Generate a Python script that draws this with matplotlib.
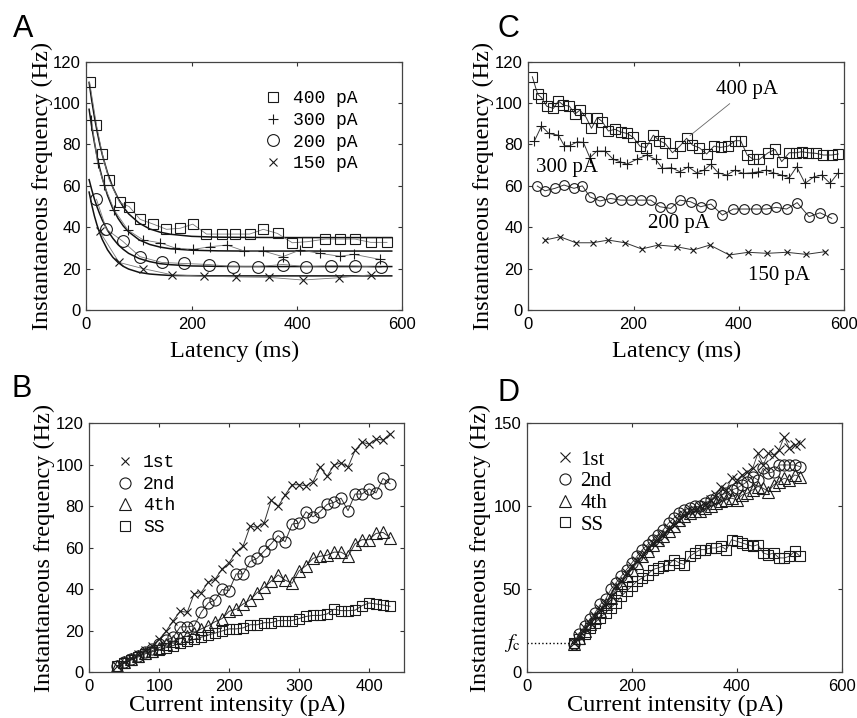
import matplotlib
matplotlib.use('Agg')
import matplotlib.pyplot as plt
from matplotlib.lines import Line2D
from matplotlib import transforms

plt.rcParams['font.family'] = ['Liberation Sans Narrow', 'Liberation Sans']
plt.rcParams['mathtext.fontset'] = 'stix'

# ---- panel A: latency vs frequency (data + exponential fits)
a_x_400 = [6, 19, 30, 43, 63, 81, 102, 127, 152, 178, 202, 228, 257, 283, 310, 336, 363, 391, 419, 454, 481, 510, 540, 571]
a_y_400 = [110, 89.4, 75.4, 63, 52, 50, 43.8, 41.5, 39, 39.5, 41.5, 36.7, 36.7, 36.7, 36.7, 39, 37, 32.5, 33, 34.3, 34.3, 34.3, 32.7, 32.7]
a_x_300 = [9.5, 21, 33.6, 52.7, 79, 108, 140, 168, 203, 235, 267, 300, 336, 373, 406, 443, 481, 508, 557]
a_y_300 = [92, 71, 60.4, 48.3, 38.6, 33.8, 32.5, 30, 29.3, 30.6, 31.4, 28.5, 28.5, 25.8, 29, 27.4, 26, 26.9, 24.5]
a_x_200 = [19, 38, 68.6, 101.6, 143, 185, 233, 278, 325, 373, 417, 465, 511, 560]
a_y_200 = [53.5, 39, 33.3, 25.8, 23, 22.5, 22, 21, 21, 22, 21, 21.4, 21.3, 20.6]
a_x_150 = [25, 62, 108, 163, 223, 284, 346, 411, 479, 540]
a_y_150 = [38, 23, 20, 17, 16.4, 16, 15.8, 14.5, 15.6, 17]

fit_x = [5, 10, 15, 20, 25, 30, 40, 50, 60, 70, 80, 100, 120, 140, 160, 200, 250, 300, 400, 500, 580]
fit_400 = [110, 101.2, 93.4, 86.5, 80.5, 75.1, 66.3, 59.3, 54, 49.8, 46.5, 42, 39.2, 37.6, 36.6, 35.6, 35.2, 35.1, 35, 35, 35]
fit_300 = [97, 88.5, 81, 74.4, 68.7, 63.7, 55.4, 49.1, 44.3, 40.6, 37.8, 33.9, 31.7, 30.4, 29.6, 28.9, 28.6, 28.5, 28.5, 28.5, 28.5]
fit_200 = [63, 58.1, 53.7, 49.9, 46.5, 43.5, 38.5, 34.7, 31.6, 29.3, 27.4, 24.9, 23.4, 22.4, 21.9, 21.3, 21.1, 21, 21, 21, 21]
fit_150 = [57, 50.8, 45.5, 41.1, 37.3, 34.1, 29.1, 25.5, 23, 21.1, 19.8, 18.2, 17.4, 17, 16.7, 16.6, 16.5, 16.5, 16.5, 16.5, 16.5]

# ---- panel C: latency vs frequency
c_x_400 = [7.6, 17.7, 25, 34.9, 47.5, 57, 66.5, 78, 88.7, 98, 110, 120, 131, 140.7, 152, 164.8, 176, 188, 199.6, 212,
           223.7, 237.6, 249, 260, 274, 288, 301, 312, 325, 339, 353, 365.6, 380, 393, 403.7, 416, 427.8, 439, 456, 469,
           481.6, 496, 509, 519.6, 532, 547, 561, 577, 589]
c_y_400 = [112.7, 104.3, 102.6, 98.5, 97.4, 101, 99, 98.5, 94.7, 96.6, 93, 87.8, 93, 91, 86.5, 87.3, 86, 85.3, 83.4, 79.2,
           78.4, 84.5, 81.8, 80.5, 76, 79.2, 83, 79.7, 78.4, 75.4, 79.2, 78.6, 79.2, 81.8, 81.8, 74.9, 72.8, 72.8, 76, 77.6,
           71.7, 76, 76, 76.5, 76, 75.7, 74.9, 74.9, 75.4]
c_x_300 = [11.4, 25, 39, 57, 68.4, 79, 93, 104.6, 117, 130, 145.8, 161.6, 174, 187, 206, 225, 242, 255, 272, 288,
           304, 320, 334, 346.6, 361, 377, 393, 408.7, 424.6, 437, 451.8, 466, 481.6, 496, 510, 526, 543, 557.6, 573.5, 589]
c_y_300 = [81.6, 88.9, 85.3, 84.5, 79.4, 79.4, 81.3, 81, 73.6, 76.8, 76.8, 72.8, 71.7, 70.5, 72.8, 74.9, 72.8, 68.4, 68.8, 66.8,
           69.2, 66.3, 67.6, 70.4, 66.3, 65.2, 67.6, 66, 66.3, 66.8, 67.6, 66.3, 65.2, 63.9, 69.2, 61.2, 64.4, 65.2, 61.2, 66.3]
c_x_200 = [17, 31.7, 50.7, 67.8, 86.8, 102.7, 117, 136, 156.5, 175.5, 194.5, 213.5, 232.6, 250, 270.6, 288, 308.6, 327.6,
           347, 369, 389.7, 410.6, 432, 452, 471, 491, 511, 533.6, 554.5, 576.7]
c_y_200 = [59.9, 57.6, 58.8, 60.4, 58.8, 60, 54.7, 52.7, 53.9, 53.1, 53.1, 53.1, 53.1, 49.9, 49.1, 53.1, 52.3, 49.9,
           51.2, 45.9, 48.8, 48.8, 48.8, 48.8, 49.6, 48.8, 51.9, 45.1, 47, 44.3]
c_x_150 = [31.7, 60.2, 90.6, 122, 152, 183.8, 215.5, 247, 282, 313.7, 345, 382, 418, 454, 491, 528, 564]
c_y_150 = [33.8, 35.4, 32.5, 32.5, 33.8, 32.5, 29.5, 31.4, 30.6, 29, 31.4, 26.6, 27.9, 27.4, 27.9, 26.9, 28.2]

# ---- panel B: current intensity vs frequency
b_x = [40, 50, 60, 70, 80, 90, 100, 110, 120, 130, 140, 150, 160, 170, 180, 190, 200, 210, 220, 230,
       240, 250, 260, 270, 280, 290, 300, 310, 320, 330, 340, 350, 360, 370, 380, 390, 400, 410, 420, 430]
b_1st = [3, 5, 7, 8.8, 11, 13, 16, 20, 25, 29.5, 29, 38, 38.5, 43.5, 45, 50, 53, 58, 61, 70.5,
         70, 72, 83, 80, 85.5, 90.5, 90.5, 90, 92, 99, 94.5, 100, 101, 99, 107, 111, 110, 112.5, 112, 115]
b_2nd = [3, 5, 6.5, 8, 10, 11.5, 13.5, 15.5, 17, 22, 22, 22.5, 29, 33.5, 35, 40, 39.5, 47.5, 47.5, 53.5,
         55, 58.5, 62, 66, 63, 71.5, 72, 77.5, 75, 77.5, 81, 82, 84, 78, 86, 86, 88.5, 86.5, 93.5, 91]
b_4th = [3, 5, 6.5, 8, 9.5, 10.5, 12, 13.5, 15, 16.5, 17.5, 19, 21, 22.5, 24.5, 26, 29.5, 30.5, 33, 35,
         38.5, 41, 44, 47, 44.5, 43, 49, 51.5, 55, 56, 56.5, 58, 58, 56, 62, 64, 64, 67, 67.5, 65]
b_ss = [3, 4.5, 6, 7.5, 9, 10, 11, 12, 13, 14, 15, 16, 17, 18, 19, 20, 21, 21, 21.5, 23,
        23, 24, 24, 25, 25, 25, 26, 27, 27.5, 27.5, 28.2, 30.5, 29.8, 29.8, 30, 32.2, 33.5, 33, 32.5, 31.9]

# ---- panel D: current intensity vs frequency
d_x = [90, 100, 110, 120, 130, 140, 150, 160, 170, 180, 190, 200, 210, 220, 230, 240, 250, 260, 270, 280, 290, 300,
       310, 320, 330, 340, 350, 360, 370, 380, 390, 400, 410, 420, 430, 440, 450, 460, 470, 480, 490, 500, 510, 520]
d_1st = [17.5, 22, 27, 30, 34, 38, 41, 46, 52, 55, 60, 64, 67, 70, 75, 78, 80, 83, 87, 89, 92, 95,
         97, 98, 100, 101, 104, 107, 112, 110, 117, 116, 119, 121, 123, 132, 125, 132, 131, 134, 142, 135, 137, 138]
d_2nd = [17, 23, 28, 32, 36, 41, 44, 50, 54, 58, 62, 66, 70, 74, 77, 80, 83, 86, 90, 93, 96, 98,
         99, 100, 100, 102, 104, 105, 107, 108, 110, 111, 113, 115, 118, 116, 123, 120, 121, 125, 125, 125, 125, 124]
d_4th = [17, 21, 25, 29, 33, 37, 41, 45, 50, 54, 58, 62, 66, 70, 73, 77, 80, 82, 85, 88, 92, 94,
         96, 97, 97, 99, 100, 102, 103, 104, 105, 104, 107, 108, 110, 112, 111, 109, 113, 115, 117, 116, 119, 118]
d_ss = [17.5, 20, 23, 27, 30, 33, 36, 39, 42, 46, 49, 52, 55, 57, 59, 62, 63, 64, 65, 68, 66, 65,
        70, 72, 74, 74, 75, 75, 76, 74, 80, 79, 78, 77, 76, 77, 72, 71, 72, 69, 69, 70, 73, 70]
d_fc = 17.5

SERIF = 'Liberation Serif'
MONO = 'Liberation Mono'
EDGE = '#1a1a1a'


def style_axes(ax, xlim, ylim, xticks, yticks):
    ax.set_xlim(xlim)
    ax.set_ylim(ylim)
    ax.set_xticks(xticks)
    ax.set_yticks(yticks)
    ax.tick_params(direction='in', top=True, right=True, length=3, width=0.8,
                   colors='#333333', labelcolor='black', labelsize=12)
    ax.tick_params(axis='x', pad=5)
    ax.tick_params(axis='y', pad=4)
    for s in ax.spines.values():
        s.set_color('#444444')
        s.set_linewidth(0.9)


def series(ax, x, y, marker, ms, lw=0.7, lc='#333333'):
    ax.plot(x, y, color=lc, lw=lw, marker=marker, ms=ms, mfc='none', mec=EDGE, mew=0.8)


def proxy(marker, ms):
    return Line2D([], [], ls='none', marker=marker, ms=ms, mfc='none', mec=EDGE, mew=0.8)


fig = plt.figure(figsize=(8.57, 7.18), dpi=100)
axA = fig.add_axes([0.1009, 0.5682, 0.3685, 0.3459])
axC = fig.add_axes([0.6165, 0.5682, 0.3683, 0.3459])
axB = fig.add_axes([0.1042, 0.0634, 0.3672, 0.3468])
axD = fig.add_axes([0.6146, 0.0634, 0.3679, 0.3468])

# ---- A
for fy in (fit_400, fit_300, fit_200, fit_150):
    axA.plot(fit_x, fy, color='#111111', lw=1.1)
series(axA, a_x_400, a_y_400, 's', 7.2, lw=0.6, lc='#777777')
series(axA, a_x_300, a_y_300, '+', 7.5, lw=0.6, lc='#777777')
series(axA, a_x_200, a_y_200, 'o', 8.5, lw=0.6, lc='#777777')
series(axA, a_x_150, a_y_150, 'x', 5.5, lw=0.6, lc='#777777')
style_axes(axA, (0, 600), (0, 120), [0, 200, 400, 600], range(0, 121, 20))
axA.legend([proxy('s', 7.2), proxy('+', 7.5), proxy('o', 8.5), proxy('x', 5.5)],
           ['400 pA', '300 pA', '200 pA', '150 pA'],
           loc='upper left', bbox_to_anchor=(0.562, 0.884), frameon=False,
           borderpad=0, borderaxespad=0, handlelength=1.0, handletextpad=0.6,
           labelspacing=0.25, prop={'family': MONO, 'size': 13})

# ---- C
series(axC, c_x_400, c_y_400, 's', 7.2)
series(axC, c_x_300, c_y_300, '+', 7.5)
series(axC, c_x_200, c_y_200, 'o', 7)
series(axC, c_x_150, c_y_150, 'x', 5)
style_axes(axC, (0, 600), (0, 120), [0, 200, 400, 600], range(0, 121, 20))
axC.annotate('400 pA', xy=(c_x_400[26], c_y_400[26]), xytext=(416, 106.5),
             ha='center', va='center', fontsize=15, family=SERIF,
             arrowprops=dict(arrowstyle='-', color='#666666', lw=0.6, shrinkA=2, shrinkB=3))
axC.text(74, 69, '300 pA', ha='center', va='center', fontsize=15, family=SERIF)
axC.text(287, 41.6, '200 pA', ha='center', va='center', fontsize=15, family=SERIF)
axC.text(477, 16.7, '150 pA', ha='center', va='center', fontsize=15, family=SERIF)

# ---- B
series(axB, b_x, b_ss, 's', 6.5)
series(axB, b_x, b_4th, '^', 8)
series(axB, b_x, b_2nd, 'o', 8)
series(axB, b_x, b_1st, 'x', 6)
style_axes(axB, (0, 450), (0, 120), [0, 100, 200, 300, 400], range(0, 121, 20))
axB.legend([proxy('x', 6), proxy('o', 8), proxy('^', 8), proxy('s', 6.5)],
           ['1st', '2nd', '4th', 'SS'],
           loc='upper left', bbox_to_anchor=(0.085, 0.876), frameon=False,
           borderpad=0, borderaxespad=0, handlelength=1.0, handletextpad=0.5,
           labelspacing=0.25, prop={'family': MONO, 'size': 13})

# ---- D
axD.plot([0, d_x[0]], [d_fc, d_fc], color='black', ls=':', lw=1.0)
series(axD, d_x, d_ss, 's', 7.2, lw=0.6)
series(axD, d_x, d_4th, '^', 8, lw=0.6)
series(axD, d_x, d_2nd, 'o', 8, lw=0.6)
series(axD, d_x, d_1st, 'x', 6.5, lw=0.6)
style_axes(axD, (0, 600), (0, 150), [0, 200, 400, 600], [0, 50, 100, 150])
trD = transforms.blended_transform_factory(axD.transAxes, axD.transData)
axD.text(-0.02, d_fc, r'$f_{\mathrm{c}}$', transform=trD, ha='right', va='center', fontsize=15)
axD.legend([proxy('x', 6.5), proxy('o', 8), proxy('^', 8), proxy('s', 7.2)],
           ['1st', '2nd', '4th', 'SS'],
           loc='upper left', bbox_to_anchor=(0.088, 0.893), frameon=False,
           borderpad=0, borderaxespad=0, handlelength=1.0, handletextpad=0.25,
           labelspacing=0.1, prop={'family': SERIF, 'size': 15})

# ---- labels
for ax, xl, ylx in ((axA, 'Latency (ms)', -0.106), (axC, 'Latency (ms)', -0.109),
                    (axB, 'Current intensity (pA)', -0.109), (axD, 'Current intensity (pA)', -0.112)):
    ax.set_xlabel(xl, family=SERIF, fontsize=17.5)
    ax.set_ylabel('Instantaneous frequency (Hz)', family=SERIF, fontsize=17.5)
    ax.yaxis.set_label_coords(ylx, 0.5)
    ax.xaxis.set_label_coords(0.47, -0.125 if ax in (axA, axC) else -0.09)

for letter, x, y in (('A', 0.0148, 0.980), ('C', 0.580, 0.980), ('B', 0.0137, 0.479), ('D', 0.580, 0.474)):
    fig.text(x, y, letter, ha='left', va='top', fontsize=22, family='Liberation Sans')

fig.savefig('out.png', dpi=100)
